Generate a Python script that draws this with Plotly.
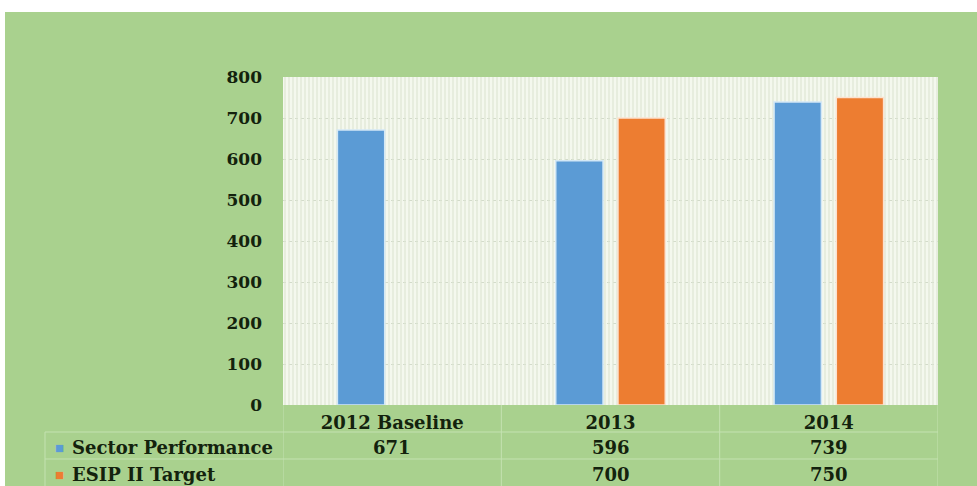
import plotly.graph_objects as go

# Chart data
categories = ["2012 Baseline", "2013", "2014"]
sector_performance = [671, 596, 739]
esip_target = [None, 700, 750]
series_names = ["Sector Performance", "ESIP II Target"]
y_ticks = [0, 100, 200, 300, 400, 500, 600, 700, 800]

W, H = 977, 486
BLUE = "#5b9bd5"
ORANGE = "#ed7d31"
GREEN = "#a9d18e"
TEXT = "#13220d"
FONT = "DejaVu Serif"

def px(x):
    return x / W

def py(y):
    return 1 - y / H

plot_left, plot_right = px(283), px(938)
plot_top, plot_bottom = py(77), py(405)

fig = go.Figure()

# Faint striped texture on a base axis that sits beneath the bar subplot
fig.add_trace(go.Bar(
    x=[0.5], y=[y_ticks[-1]], width=[1], xaxis="x2", yaxis="y",
    marker=dict(color="rgba(0,0,0,0)", line=dict(width=0),
                pattern=dict(shape="|", fgcolor="#dde6d3", bgcolor="rgba(0,0,0,0)",
                             size=4, solidity=0.3)),
    hoverinfo="skip", showlegend=False,
))

fig.add_trace(go.Bar(
    x=categories, y=sector_performance, name=series_names[0],
    marker=dict(color=BLUE, line=dict(color="#d3e8f6", width=1.5)),
    showlegend=False,
))
fig.add_trace(go.Bar(
    x=categories, y=esip_target, name=series_names[1],
    marker=dict(color=ORANGE, line=dict(color="#fbe2d0", width=1.5)),
    showlegend=False,
))

shapes = [
    # green card background
    dict(type="rect", xref="paper", yref="paper", x0=px(5), x1=1, y0=0, y1=py(12),
         fillcolor=GREEN, line=dict(width=0), layer="below"),
    # pale plotting area
    dict(type="rect", xref="paper", yref="paper", x0=plot_left, x1=plot_right,
         y0=plot_bottom, y1=plot_top, fillcolor="#f4f8ee", line=dict(width=0),
         layer="below"),
]

# Data-table grid lines below the plot
line_style = dict(color="#c4e2b1", width=1)
row_lines = [432, 459]
for ry in row_lines:
    shapes.append(dict(type="line", xref="paper", yref="paper",
                       x0=px(45), x1=plot_right, y0=py(ry), y1=py(ry), line=line_style))
for bx in [-0.5, 0.5, 1.5, 2.5]:
    shapes.append(dict(type="line", xref="x", yref="paper",
                       x0=bx, x1=bx, y0=0, y1=plot_bottom, line=line_style))
shapes.append(dict(type="line", xref="paper", yref="paper",
                   x0=px(45), x1=px(45), y0=0, y1=py(432), line=line_style))

annotations = []
row_centers = [447, 474]
row_values = [sector_performance, esip_target]
row_colors = [BLUE, ORANGE]
for name, vals, color, ry in zip(series_names, row_values, row_colors, row_centers):
    annotations.append(dict(xref="paper", yref="paper", x=px(53), y=py(ry),
                            text="■", showarrow=False, xanchor="left", yanchor="middle",
                            font=dict(color=color, size=15)))
    annotations.append(dict(xref="paper", yref="paper", x=px(70), y=py(ry),
                            text=name, showarrow=False,
                            xanchor="left", yanchor="middle",
                            font=dict(family=FONT, size=18, color=TEXT, weight="bold")))
    for i, v in enumerate(vals):
        if v is None:
            continue
        annotations.append(dict(xref="x", yref="paper", x=i, y=py(ry),
                                text=str(v), showarrow=False,
                                xanchor="center", yanchor="middle",
                                font=dict(family=FONT, size=18, color=TEXT, weight="bold")))

fig.update_layout(
    width=W, height=H,
    margin=dict(l=0, r=0, t=0, b=0),
    template="none",
    paper_bgcolor="white",
    plot_bgcolor="rgba(0,0,0,0)",
    barmode="group",
    bargap=0.43,
    bargroupgap=0.24,
    showlegend=False,
    xaxis2=dict(domain=[plot_left, plot_right], range=[0, 1],
                visible=False, anchor="y"),
    xaxis=dict(domain=[plot_left, plot_right], type="category",
               overlaying="x2", anchor="y",
               categoryorder="array", categoryarray=categories,
               range=[-0.5, len(categories) - 0.5],
               showgrid=False, zeroline=False, showline=False,
               ticks="", automargin=False, ticklabelstandoff=5,
               tickfont=dict(family=FONT, size=18, color=TEXT, weight="bold")),
    yaxis=dict(domain=[plot_bottom, plot_top], range=[0, y_ticks[-1]],
               tickvals=y_ticks, showgrid=True, gridcolor="#d3dbca",
               griddash="dot", gridwidth=1, zeroline=False, showline=False,
               ticks="", automargin=False, ticklabelstandoff=20,
               tickfont=dict(family=FONT, size=17, color=TEXT, weight="bold")),
    shapes=shapes,
    annotations=annotations,
)

fig.write_html("out.html")
